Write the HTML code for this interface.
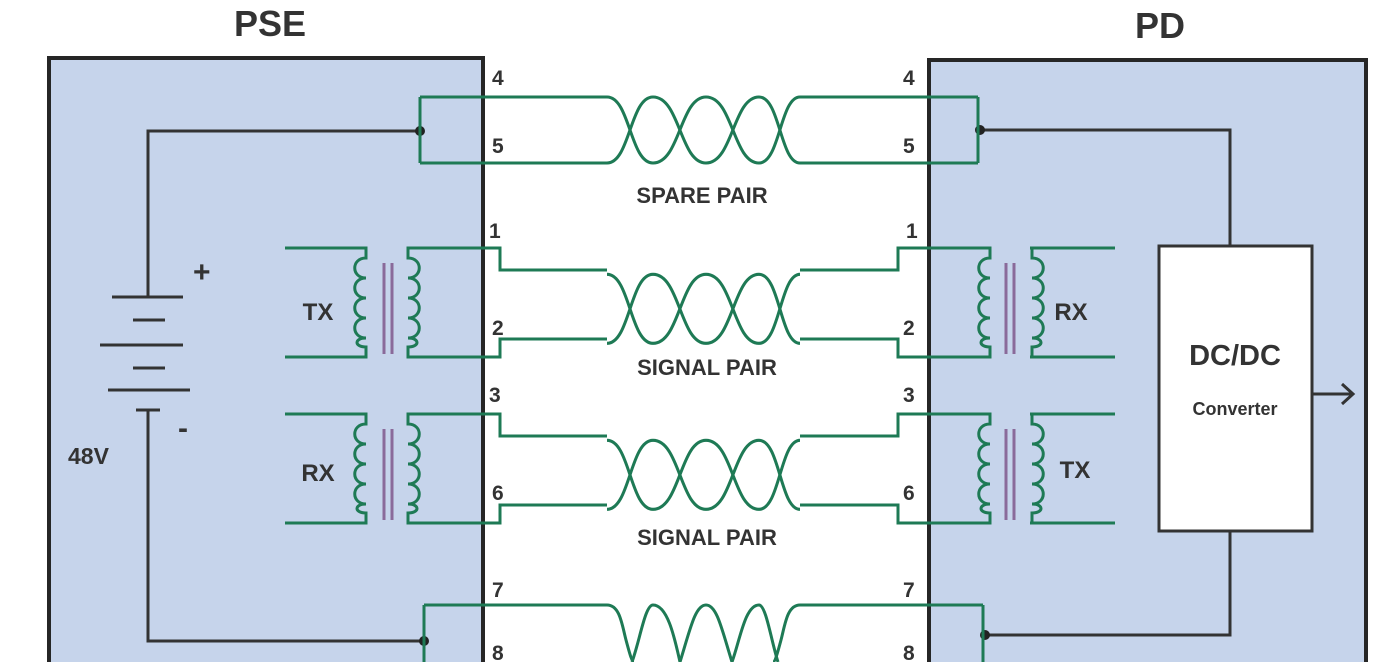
<!DOCTYPE html>
<html><head><meta charset="utf-8"><style>
html,body{margin:0;padding:0;background:#fff;width:1392px;height:662px;overflow:hidden;}
svg{display:block;overflow:hidden;}
text{font-family:"Liberation Sans",sans-serif;font-weight:bold;fill:#333;}
</style></head><body>
<svg width="1392" height="662" viewBox="0 0 1392 662" xmlns="http://www.w3.org/2000/svg">
<rect x="0" y="0" width="1392" height="662" fill="#fff"/>
<path d="M49 662 V58 H483 V662" fill="#c6d4eb" stroke="#262626" stroke-width="4"/>
<path d="M929 662 V60 H1366 V662" fill="#c6d4eb" stroke="#262626" stroke-width="4"/>
<text x="270" y="36" font-size="36" text-anchor="middle">PSE</text>
<text x="1160" y="38" font-size="36" text-anchor="middle">PD</text>

<g fill="none" stroke="#333" stroke-width="3">
<path d="M420 131 H148 V297"/>
<path d="M980 130 H1230 V245"/>
<path d="M148 410 V641 H424"/>
<path d="M985 635 H1230 V531"/>
<path d="M112 297 H183 M133 320 H165 M100 345 H183 M133 368 H165 M108 390 H190 M136 410 H160"/>
<path d="M1312 394 H1352 M1342 384 L1353 394 L1342 404"/>
</g>
<rect x="1159" y="246" width="153" height="285" fill="#fff" stroke="#333" stroke-width="3"/>
<text x="1235" y="365" font-size="29" text-anchor="middle">DC/DC</text>
<text x="1235" y="415" font-size="18" text-anchor="middle" fill="#444">Converter</text>
<text x="193" y="282" font-size="30">+</text>
<text x="178" y="438" font-size="30">-</text>
<text x="68" y="464" font-size="23">48V</text>
<circle cx="420" cy="131" r="5" fill="#222"/>
<circle cx="980" cy="130" r="5" fill="#222"/>
<circle cx="424" cy="641" r="5" fill="#222"/>
<circle cx="985" cy="635" r="5" fill="#222"/>

<g fill="none" stroke="#1e7a55" stroke-width="3">
<path d="M420 97 V163 M420 97 H607 M420 163 H607"/>
<path d="M978 97 V163 M978 97 H800 M978 163 H800"/>
<path d="M424 605 V662 M424 605 H607"/>
<path d="M983 605 V662 M983 605 H800"/>
<path d="M418 248 H500 V270 H607 M418 357 H500 V339 H607"/>
<path d="M980 248 H898 V270 H800 M980 357 H898 V339 H800"/>
<path d="M418 414 H500 V436 H607 M418 523 H500 V505 H607"/>
<path d="M980 414 H898 V436 H800 M980 523 H898 V505 H800"/>
</g>
<g fill="none" stroke="#1e7a55" stroke-width="3" id="tw">
<path d="M607 97 C630 97 630 163 653 163 C680 163 680 97 706 97 C733 97 733 163 759 163 C780 163 780 97 800 97"/>
<path d="M607 163 C630 163 630 97 653 97 C680 97 680 163 706 163 C733 163 733 97 759 97 C780 97 780 163 800 163"/>
</g>
<use href="#tw" transform="translate(0,173) scale(1,1.045)"/>
<use href="#tw" transform="translate(0,339) scale(1,1.045)"/>
<g fill="none" stroke="#1e7a55" stroke-width="3">
<path d="M607 605 C620 605 622 625 626 640 C630 655 632 662 634 662"/>
<path d="M800 605 C787 605 785 625 781 640 C777 655 775 662 773 662"/>
<path d="M632 662 C640 640 645 605 653 605 C668 605 675 640 680 662"/>
<path d="M680 662 C690 630 695 605 706 605 C717 605 722 630 732 662"/>
<path d="M732 662 C740 640 745 605 759 605 C766 605 771 640 778 662"/>
</g>

<g id="xf">
<g fill="none" stroke="#1e7a55" stroke-width="3">
<path d="M285 248 H366 V258 c-15 0 -15 20 0 20 c-15 0 -15 20 0 20 c-15 0 -15 20 0 20 c-15 0 -15 20 0 20 c-12 0 -12 9 0 9 V357 H285"/>
<path d="M418 248 H408 V258 c15 0 15 20 0 20 c15 0 15 20 0 20 c15 0 15 20 0 20 c15 0 15 20 0 20 c12 0 12 9 0 9 V357 H418"/>
</g>
<path d="M384 263 V354 M392 263 V354" stroke="#8a6a9a" stroke-width="3"/>
</g>
<use href="#xf" transform="translate(0,166)"/>
<use href="#xf" transform="translate(1398,0) scale(-1,1)"/>
<use href="#xf" transform="translate(1398,166) scale(-1,1)"/>
<g fill="none" stroke="#1e7a55" stroke-width="3">
<path d="M1030 248 H1115 M1030 357 H1115 M1030 414 H1115 M1030 523 H1115"/>
</g>
<text x="318" y="320" font-size="24" text-anchor="middle">TX</text>
<text x="318" y="481" font-size="24" text-anchor="middle">RX</text>
<text x="1071" y="320" font-size="24" text-anchor="middle">RX</text>
<text x="1075" y="478" font-size="24" text-anchor="middle">TX</text>

<g font-size="21">
<text x="492" y="85">4</text><text x="492" y="153">5</text>
<text x="489" y="238">1</text><text x="492" y="335">2</text>
<text x="489" y="402">3</text><text x="492" y="500">6</text>
<text x="492" y="597">7</text><text x="492" y="660">8</text>
<text x="903" y="85">4</text><text x="903" y="153">5</text>
<text x="906" y="238">1</text><text x="903" y="335">2</text>
<text x="903" y="402">3</text><text x="903" y="500">6</text>
<text x="903" y="597">7</text><text x="903" y="660">8</text>
</g>
<g font-size="22" text-anchor="middle">
<text x="702" y="203">SPARE PAIR</text>
<text x="707" y="375">SIGNAL PAIR</text>
<text x="707" y="545">SIGNAL PAIR</text>
</g>
</svg>
</body></html>
